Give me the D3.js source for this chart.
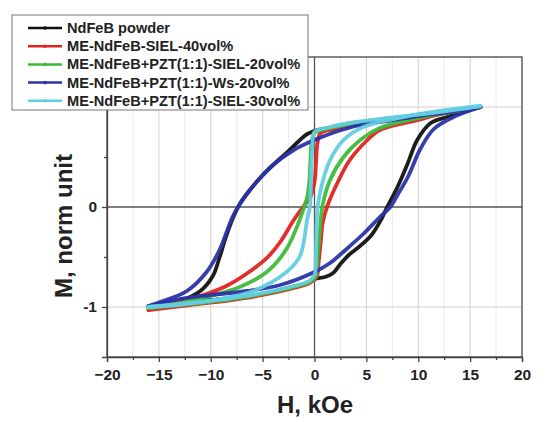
<!DOCTYPE html>
<html><head><meta charset="utf-8">
<script src="https://cdn.jsdelivr.net/npm/d3@7"></script>
<style>html,body{margin:0;padding:0;background:#fff;}svg{display:block;}</style>
</head><body>
<script>
// ---- data (H in kOe, M normalized) ----
const seriesNames = ["NdFeB powder","ME-NdFeB-SIEL-40vol%","ME-NdFeB+PZT(1:1)-SIEL-20vol%","ME-NdFeB+PZT(1:1)-Ws-20vol%","ME-NdFeB+PZT(1:1)-SIEL-30vol%"];
const seriesColors = ["#111111","#e3231f","#3dba3a","#2b33a8","#62cfe0"];
const xTicks = [-20,-15,-10,-5,0,5,10,15,20];
const yTicks = [-1,0,1];
const yTickLabels = ["-1","0",""]; // "1" is hidden behind the legend in the original

// descending branches (from +H to -H)
const blackDesc = [[16,1],[13,0.96],[10,0.92],[7,0.88],[4,0.84],[2,0.8],[0.3,0.77],[-0.7,0.73],[-1.5,0.66],[-2.7,0.54],[-4,0.42],[-5.25,0.29],[-6.3,0.16],[-7.2,0.03],[-7.9,-0.12],[-8.6,-0.32],[-9.2,-0.52],[-9.8,-0.69],[-11,-0.84],[-13,-0.94],[-16,-1.0]];
const blueDesc  = [[16,1],[13,0.95],[10,0.91],[7,0.86],[4.4,0.82],[2,0.75],[0,0.67],[-2,0.57],[-4,0.42],[-5.25,0.29],[-6.3,0.16],[-7.2,0.03],[-7.9,-0.1],[-8.5,-0.26],[-9.2,-0.44],[-10.4,-0.65],[-12.3,-0.84],[-14.6,-0.94],[-16,-0.99]];
const redDesc   = [[16,1],[12,0.93],[8,0.88],[4,0.82],[2,0.78],[0.6,0.74],[0.3,0.65],[0.15,0.45],[0,0.25],[-0.4,0.1],[-1.1,0],[-2,-0.13],[-3.3,-0.35],[-4.5,-0.5],[-5.9,-0.62],[-8.5,-0.79],[-11,-0.89],[-13.6,-0.96],[-16,-1.03]];
const greenDesc = [[16,1],[12,0.94],[8,0.89],[4,0.84],[1.5,0.79],[0,0.74],[-0.3,0.62],[-0.4,0.45],[-0.5,0.25],[-0.7,0.1],[-1.0,0],[-1.4,-0.12],[-2.7,-0.42],[-4.6,-0.65],[-7.2,-0.8],[-10.4,-0.9],[-13,-0.96],[-16,-1.01]];
const cyanDesc  = [[16,1.01],[12,0.95],[8,0.9],[4,0.85],[1.5,0.8],[0,0.75],[-0.2,0.6],[-0.3,0.4],[-0.35,0.2],[-0.45,0],[-0.7,-0.12],[-1.4,-0.49],[-2.7,-0.65],[-5.9,-0.84],[-9.1,-0.92],[-12.5,-0.97],[-16,-1.0]];

// ascending branches (from -H to +H)
const blackAsc = [[-16,-1.0],[-13,-0.97],[-10,-0.93],[-7,-0.9],[-5,-0.87],[-3,-0.82],[-1,-0.77],[0,-0.72],[1,-0.7],[1.8,-0.66],[2.5,-0.57],[3.3,-0.48],[4.5,-0.38],[5.5,-0.28],[6.4,-0.13],[7,0],[8,0.2],[9,0.44],[9.9,0.67],[11.2,0.84],[12.8,0.9],[16,1]];
const blueAsc  = [[-16,-0.99],[-13,-0.92],[-10,-0.88],[-6.5,-0.84],[-3.3,-0.78],[0,-0.65],[1.5,-0.56],[3.2,-0.41],[4.8,-0.26],[6.3,-0.1],[7.3,0],[8,0.12],[9,0.3],[10.2,0.58],[11.5,0.78],[13.4,0.9],[16,1]];
const redAsc   = [[-16,-1.03],[-12,-0.98],[-8,-0.93],[-5,-0.88],[-2,-0.81],[-0.5,-0.76],[0.2,-0.7],[0.4,-0.55],[0.6,-0.35],[0.8,-0.15],[1.2,0],[2.2,0.24],[3.4,0.47],[5.1,0.67],[6.3,0.77],[9.6,0.86],[11.8,0.92],[16,1]];
const greenAsc = [[-16,-1.01],[-12,-0.97],[-8,-0.92],[-5,-0.87],[-2,-0.8],[-0.5,-0.75],[0.1,-0.7],[0.3,-0.5],[0.5,-0.25],[0.75,0],[1.5,0.27],[2.8,0.5],[4.4,0.67],[6.3,0.79],[9.6,0.88],[12,0.93],[16,1]];
const cyanAsc  = [[-16,-1.0],[-12,-0.96],[-8,-0.91],[-5,-0.86],[-2,-0.79],[-0.5,-0.74],[0,-0.68],[0.15,-0.4],[0.3,0],[0.75,0.24],[1.5,0.47],[2.8,0.67],[4.7,0.8],[9.6,0.92],[16,1.01]];

const loops = [
  [blackDesc, blackAsc],
  [redDesc, redAsc],
  [greenDesc, greenAsc],
  [blueDesc, blueAsc],
  [cyanDesc, cyanAsc]
];

// ---- drawing ----
const W = 554, H = 422;
const svg = d3.select("body").append("svg").attr("width", W).attr("height", H);
const x = d3.scaleLinear().domain([-20,20]).range([107,522]);
const y = d3.scaleLinear().domain([-1.5,1.5]).range([357,57]);
const font = "Liberation Sans, Arial, sans-serif";

// grid
const g = svg.append("g");
g.selectAll(".vminor").data(d3.range(-17.5,20,5)).enter().append("line")
  .attr("x1", d=>x(d)).attr("x2", d=>x(d)).attr("y1", y(1.5)).attr("y2", y(-1.5))
  .attr("stroke", "#ececec").attr("stroke-width", 1);
g.selectAll(".vmajor").data([-15,-10,-5,5,10,15]).enter().append("line")
  .attr("x1", d=>x(d)).attr("x2", d=>x(d)).attr("y1", y(1.5)).attr("y2", y(-1.5))
  .attr("stroke", "#cfcfcf").attr("stroke-width", 1);
g.selectAll(".hmajor").data([-1,1]).enter().append("line")
  .attr("x1", x(-20)).attr("x2", x(20)).attr("y1", d=>y(d)).attr("y2", d=>y(d))
  .attr("stroke", "#cfcfcf").attr("stroke-width", 1);
// zero lines
g.append("line").attr("x1", x(0)).attr("x2", x(0)).attr("y1", y(1.5)).attr("y2", y(-1.5))
  .attr("stroke", "#555").attr("stroke-width", 1.3);
g.append("line").attr("x1", x(-20)).attr("x2", x(20)).attr("y1", y(0)).attr("y2", y(0))
  .attr("stroke", "#555").attr("stroke-width", 1.3);

// frame
svg.append("rect").attr("x", x(-20)).attr("y", y(1.5)).attr("width", x(20)-x(-20)).attr("height", y(-1.5)-y(1.5))
  .attr("fill", "none").attr("stroke", "#444").attr("stroke-width", 1.3);

// axes
svg.append("g").attr("transform", `translate(0,${y(-1.5)})`)
  .call(d3.axisBottom(x).tickValues(xTicks).tickSize(5).tickPadding(7).tickFormat(d3.format("d")));
svg.append("g").attr("transform", `translate(0,${y(-1.5)})`)
  .call(d3.axisBottom(x).tickValues(d3.range(-17.5,20,5)).tickSize(3).tickFormat(""))
  .call(s=>s.select(".domain").remove());
svg.append("g").attr("transform", `translate(${x(-20)},0)`)
  .call(d3.axisLeft(y).tickValues(yTicks).tickSize(5).tickPadding(5).tickFormat((d,i)=>yTickLabels[i]));
svg.append("g").attr("transform", `translate(${x(-20)},0)`)
  .call(d3.axisLeft(y).tickValues([-0.5,0.5]).tickSize(3).tickFormat(""))
  .call(s=>s.select(".domain").remove());
svg.selectAll(".tick line").attr("stroke", "#444").attr("stroke-width", 1.3);
svg.selectAll(".domain").attr("stroke", "#444").attr("stroke-width", 1.3);
svg.selectAll(".tick text").attr("font-family", font).attr("font-weight", "bold")
  .attr("font-size", 15.5).attr("fill", "#222");

// curves
const line = d3.line().x(d=>x(d[0])).y(d=>y(d[1])).curve(d3.curveCatmullRom.alpha(0.5));
const curves = svg.append("g");
loops.forEach((branches, i) => {
  branches.forEach(b => {
    curves.append("path").attr("d", line(b)).attr("fill", "none")
      .attr("stroke", seriesColors[i]).attr("stroke-width", 3.8)
      .attr("stroke-linecap", "round").attr("stroke-linejoin", "round").attr("opacity", 0.95);
  });
});

// axis titles
svg.append("text").attr("x", 315).attr("y", 413).attr("text-anchor", "middle")
  .attr("font-family", font).attr("font-weight", "bold").attr("font-size", 24).attr("fill", "#222")
  .text("H, kOe");
svg.append("text").attr("transform", "translate(72,226) rotate(-90)").attr("text-anchor", "middle")
  .attr("font-family", font).attr("font-weight", "bold").attr("font-size", 24).attr("fill", "#222")
  .text("M, norm unit");

// legend
const lg = svg.append("g");
lg.append("rect").attr("x", 12).attr("y", 15).attr("width", 296).attr("height", 95)
  .attr("fill", "#fff").attr("stroke", "#777").attr("stroke-width", 1);
seriesNames.forEach((name, i) => {
  const yy = 28 + i * 18.2;
  lg.append("line").attr("x1", 28).attr("x2", 62).attr("y1", yy).attr("y2", yy)
    .attr("stroke", seriesColors[i]).attr("stroke-width", 2.5);
  lg.append("circle").attr("cx", 45).attr("cy", yy).attr("r", 1.8).attr("fill", seriesColors[i]);
  lg.append("text").attr("x", 67).attr("y", yy + 5).attr("font-family", font)
    .attr("font-weight", "bold").attr("font-size", 14.6).attr("fill", "#222").text(name);
});
</script>
</body></html>
